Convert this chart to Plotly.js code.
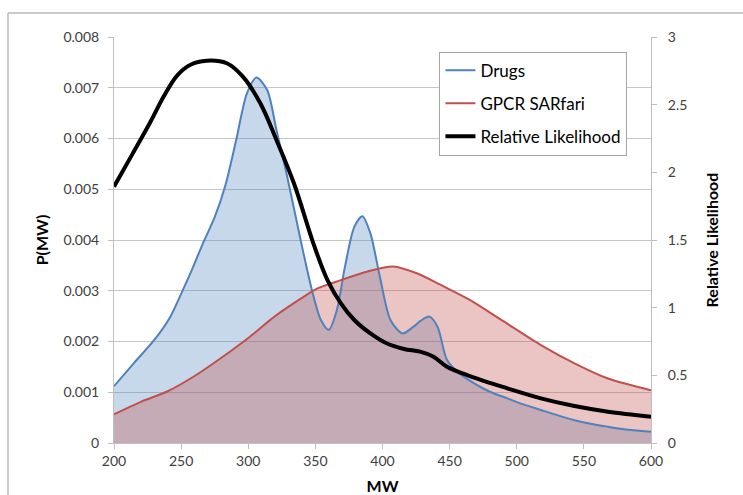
<!DOCTYPE html>
<html>
<head>
<meta charset="utf-8">
<script src="https://cdn.plot.ly/plotly-3.0.1.min.js"></script>
<style>html,body{margin:0;padding:0;background:#fff;}#chart{width:743px;height:495px;}</style>
</head>
<body>
<div id="chart"></div>
<script>
// Drugs: P(MW)
const drugsMW = [200, 215, 230, 242, 250, 258, 266, 275, 283, 291, 299, 306, 314, 321, 329, 339, 344, 349, 354, 360, 366, 372, 379, 385, 391, 398, 406, 415, 423, 428, 435, 441, 448, 456, 468, 480, 493, 505, 518, 530, 543, 555, 568, 580, 600];
const drugsP = [0.00112, 0.00158, 0.00203, 0.00249, 0.00294, 0.00341, 0.00392, 0.00445, 0.00508, 0.00597, 0.00689, 0.00720, 0.00696, 0.00617, 0.00525, 0.00400, 0.00340, 0.00285, 0.00243, 0.00223, 0.00262, 0.00347, 0.00426, 0.00447, 0.00413, 0.00328, 0.00242, 0.00216, 0.00229, 0.00240, 0.00249, 0.00229, 0.00164, 0.00140, 0.00118, 0.00101, 0.00088, 0.00076, 0.00065, 0.00055, 0.00045, 0.00038, 0.00032, 0.00027, 0.00022];
// GPCR SARfari: P(MW)
const gpcrMW = [200, 220, 240, 260, 280, 300, 320, 340, 352, 369, 389, 408, 426, 443, 465, 490, 518, 543, 568, 600];
const gpcrP = [0.000565, 0.00081, 0.00102, 0.00132, 0.00168, 0.00207, 0.00250, 0.00286, 0.00305, 0.00321, 0.00338, 0.00348, 0.00334, 0.00312, 0.00282, 0.00240, 0.00193, 0.00157, 0.00127, 0.00104];
// Relative Likelihood
const relMW = [200, 214, 227, 237, 247, 257, 269, 284, 296, 309, 321, 334, 349, 359, 369, 379, 391, 403, 416, 428, 438, 448, 465, 493, 518, 543, 568, 600];
const relL = [1.894, 2.14, 2.37, 2.56, 2.715, 2.795, 2.825, 2.806, 2.707, 2.51, 2.239, 1.919, 1.46, 1.204, 1.032, 0.909, 0.81, 0.737, 0.695, 0.675, 0.638, 0.564, 0.495, 0.404, 0.330, 0.273, 0.231, 0.194];
const xTicks = [200, 250, 300, 350, 400, 450, 500, 550, 600];

const BLUE = '#4F81BD', RED = '#C0504D';
const FONT = 'Lato, "Open Sans", sans-serif';

const traces = [
  {x: drugsMW, y: drugsP, type: 'scatter', mode: 'lines', fill: 'tozeroy',
   fillcolor: 'rgba(79,129,189,0.31)', line: {width: 0, shape: 'spline', smoothing: 0.8},
   showlegend: false, hoverinfo: 'skip'},
  {x: gpcrMW, y: gpcrP, type: 'scatter', mode: 'lines', fill: 'tozeroy',
   fillcolor: 'rgba(192,80,77,0.33)', line: {width: 0, shape: 'spline', smoothing: 0.8},
   showlegend: false, hoverinfo: 'skip'},
  {x: drugsMW, y: drugsP, type: 'scatter', mode: 'lines', name: 'Drugs', legendgroup: 'a',
   line: {color: BLUE, width: 2, shape: 'spline', smoothing: 0.8}},
  {x: gpcrMW, y: gpcrP, type: 'scatter', mode: 'lines', name: 'GPCR SARfari', legendgroup: 'b',
   line: {color: RED, width: 2, shape: 'spline', smoothing: 0.8}},
  {x: relMW, y: relL, type: 'scatter', mode: 'lines', name: 'Relative Likelihood', legendgroup: 'c',
   yaxis: 'y2', line: {color: '#000000', width: 4, shape: 'spline', smoothing: 1}}
];

const bx = (8 - 114) / 537, by = (443 - 13) / 406;
const layout = {
  width: 743, height: 495,
  margin: {l: 114, r: 92, t: 37, b: 52, pad: 0},
  paper_bgcolor: '#ffffff', plot_bgcolor: '#ffffff',
  font: {family: FONT, size: 14, color: '#404040'},
  showlegend: true,
  legend: {x: 0.606, y: 0.964, xanchor: 'left', yanchor: 'top',
           bordercolor: '#a6a6a6', borderwidth: 1, bgcolor: '#ffffff',
           font: {family: FONT, size: 17, color: '#000000'},
           traceorder: 'grouped', tracegroupgap: 8, itemwidth: 30},
  xaxis: {range: [200, 600], tickvals: xTicks, ticks: 'outside', ticklen: 5, tickcolor: '#bfbfbf',
          showline: true, linecolor: '#bfbfbf', linewidth: 1, showgrid: false, zeroline: false,
          tickfont: {family: FONT, size: 14, color: '#404040'},
          title: {text: '<b>MW</b>', font: {family: FONT, size: 16, color: '#000000'}, standoff: 13}},
  yaxis: {range: [0, 0.008], dtick: 0.001, tickformat: '.3~f', ticks: 'outside', ticklen: 5, tickcolor: '#bfbfbf',
          showline: true, linecolor: '#bfbfbf', linewidth: 1, showgrid: true, gridcolor: '#c6c6c6', gridwidth: 1,
          zeroline: false, ticklabelstandoff: 6,
          tickfont: {family: FONT, size: 14, color: '#404040'},
          title: {text: '<b>P(MW)</b>', font: {family: FONT, size: 16, color: '#000000'}, standoff: 10}},
  yaxis2: {range: [0, 3], dtick: 0.5, overlaying: 'y', side: 'right', ticks: 'outside', ticklen: 5, tickcolor: '#bfbfbf',
           showline: true, linecolor: '#bfbfbf', linewidth: 1, showgrid: false, zeroline: false, ticklabelstandoff: 8,
           tickfont: {family: FONT, size: 14, color: '#404040'},
           title: {text: '<b>Relative Likelihood</b>', font: {family: FONT, size: 16, color: '#000000'}, standoff: 20}},
  shapes: [
    {type: 'line', xref: 'paper', yref: 'paper', x0: bx, x1: bx, y0: by, y1: -0.3, line: {color: '#b8b8b8', width: 1.5}},
    {type: 'line', xref: 'paper', yref: 'paper', x0: bx, x1: 1.3, y0: by, y1: by, line: {color: '#b8b8b8', width: 1.5}}
  ]
};

Plotly.newPlot('chart', traces, layout, {displayModeBar: false, staticPlot: true});
</script>
</body>
</html>
